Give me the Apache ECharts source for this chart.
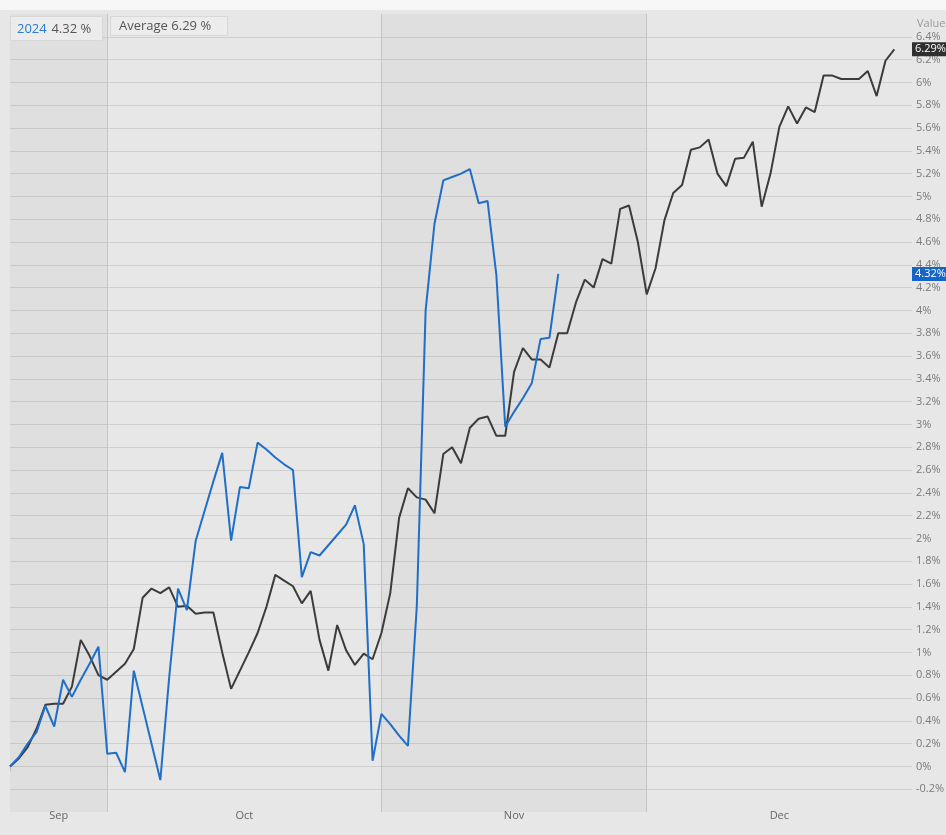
<!DOCTYPE html>
<html>
<head>
<meta charset="utf-8">
<script src="https://cdn.jsdelivr.net/npm/echarts@6/dist/echarts.min.js"></script>
<style>
  html, body { margin: 0; padding: 0; background: #e7e7e7; }
  #chart { width: 946px; height: 835px; }
</style>
</head>
<body>
<div id="chart"></div>
<script>
// daily points, Sep 20 -> Dec 31 2024
const startDay = Date.UTC(2024, 8, 20);
const dayCount = 103;
const days = [];
for (let i = 0; i < dayCount; i++) {
  days.push(new Date(startDay + i * 86400000).toISOString().slice(0, 10));
}

const monthNames = ["Sep", "Oct", "Nov", "Dec"];
const monthLabelIdx = [5, 26, 57, 87];
const monthEdgeIdx = [0, 11, 42, 72];

// 2024 return, %
const values2024 = [
  0.00, 0.08, 0.20, 0.30, 0.53, 0.35, 0.76, 0.61, 0.76, 0.90,
  1.05, 0.11, 0.12, -0.05, 0.84, 0.52, 0.20, -0.12, 0.78, 1.56,
  1.37, 1.98, 2.24, 2.50, 2.75, 1.98, 2.45, 2.44, 2.84, 2.78,
  2.71, 2.65, 2.60, 1.66, 1.88, 1.85, 1.94, 2.03, 2.12, 2.29,
  1.95, 0.05, 0.46, 0.37, 0.27, 0.18, 1.40, 4.00, 4.76, 5.14,
  5.17, 5.20, 5.24, 4.94, 4.96, 4.31, 2.98, 3.11, 3.23, 3.36,
  3.75, 3.76, 4.32
];

// seasonal average, %
const valuesAvg = [
  0.00, 0.07, 0.17, 0.33, 0.54, 0.55, 0.55, 0.70, 1.11, 0.97,
  0.80, 0.76, 0.83, 0.90, 1.03, 1.48, 1.56, 1.52, 1.57, 1.40,
  1.41, 1.34, 1.35, 1.35, 1.00, 0.68, 0.84, 1.00, 1.17, 1.40,
  1.68, 1.63, 1.58, 1.43, 1.54, 1.11, 0.84, 1.24, 1.02, 0.89,
  0.99, 0.94, 1.17, 1.52, 2.18, 2.44, 2.36, 2.34, 2.22, 2.74,
  2.80, 2.66, 2.97, 3.05, 3.07, 2.90, 2.90, 3.46, 3.67, 3.57,
  3.57, 3.50, 3.80, 3.80, 4.07, 4.27, 4.20, 4.45, 4.41, 4.89,
  4.92, 4.60, 4.14, 4.37, 4.79, 5.03, 5.10, 5.41, 5.43, 5.50,
  5.20, 5.09, 5.33, 5.34, 5.48, 4.91, 5.20, 5.61, 5.79, 5.64,
  5.78, 5.74, 6.06, 6.06, 6.03, 6.03, 6.03, 6.10, 5.88, 6.19,
  6.29
];

const last2024 = values2024[values2024.length - 1];
const lastAvg = valuesAvg[valuesAvg.length - 1];

const font = "'Open Sans', 'Noto Sans', sans-serif";
const chart = echarts.init(document.getElementById("chart"));

chart.setOption({
  backgroundColor: "#e7e7e7",
  animation: false,
  textStyle: { fontFamily: font },
  graphic: [
    { type: "rect", left: 0, top: 0, shape: { width: 946, height: 10 }, style: { fill: "#f7f7f7" }, z: -1 },
    { type: "text", left: 917, top: 18, style: { text: "Value", fill: "#999", fontSize: 11, fontFamily: font } }
  ],
  title: [
    {
      text: "{a|2024} {b|" + last2024.toFixed(2) + " %}",
      left: 10, top: 16,
      padding: [4, 12, 3, 7],
      backgroundColor: "#ececec", borderColor: "#d8d8d8", borderWidth: 1,
      textStyle: { fontWeight: "normal", rich: {
        a: { color: "#2b7bd0", fontSize: 13, fontWeight: "normal", fontFamily: font },
        b: { color: "#555", fontSize: 13, fontWeight: "normal", fontFamily: font }
      } }
    },
    {
      text: "{b|Average " + lastAvg.toFixed(2) + " %}",
      left: 110, top: 16,
      padding: [4, 17, 3, 9],
      backgroundColor: "#ececec", borderColor: "#d8d8d8", borderWidth: 1,
      textStyle: { fontWeight: "normal", rich: {
        b: { color: "#555", fontSize: 13, fontWeight: "normal", fontFamily: font }
      } }
    }
  ],
  grid: { left: 10, right: 34, top: 14, bottom: 23, containLabel: false, outerBoundsMode: "none" },
  xAxis: {
    type: "category",
    data: days,
    boundaryGap: false,
    axisLine: { show: false },
    axisTick: {
      show: true, length: 5,
      interval: (i) => monthEdgeIdx.includes(i),
      lineStyle: { color: "#c4c4c4" }
    },
    splitLine: {
      show: true,
      interval: (i) => monthEdgeIdx.includes(i) && i > 0,
      lineStyle: { color: "#c8c8c8", width: 1 }
    },
    axisLabel: {
      interval: (i) => monthLabelIdx.includes(i),
      margin: -2,
      formatter: (v, i) => {
        const k = monthLabelIdx.indexOf(i);
        return k < 2 ? "{h|" + monthNames[k] + "}" : "{n|" + monthNames[k] + "}";
      },
      rich: {
        h: { color: "#666", fontSize: 11, padding: [0, 0, 0, 9], fontFamily: "'Liberation Sans Narrow', " + font },
        n: { color: "#666", fontSize: 11, fontFamily: "'Liberation Sans Narrow', " + font }
      }
    }
  },
  yAxis: {
    type: "value",
    position: "right",
    min: -0.4, max: 6.6, interval: 0.2,
    axisLine: { show: false },
    axisTick: { show: false },
    splitLine: { show: true, showMinLine: false, showMaxLine: false, lineStyle: { color: "#cfcfcf", width: 1 } },
    axisLabel: {
      margin: 4, color: "#7a7a7a", fontSize: 11, fontFamily: font,
      showMinLabel: false, showMaxLabel: false,
      formatter: (v) => Math.round(v * 10) / 10 + "%"
    }
  },
  series: [
    {
      name: "Average",
      type: "line",
      data: valuesAvg,
      symbol: "none",
      lineStyle: { color: "#3b3b3b", width: 2 },
      z: 3,
      markArea: {
        silent: true,
        itemStyle: { color: "rgba(0,0,0,0.03)" },
        data: [
          [{ xAxis: days[0] }, { xAxis: days[11] }],
          [{ xAxis: days[42] }, { xAxis: days[72] }]
        ]
      },
      markLine: {
        silent: true, symbol: "none",
        lineStyle: { color: "rgba(0,0,0,0)", width: 0 },
        label: {
          position: "end", distance: 0, formatter: lastAvg.toFixed(2) + "%",
          color: "#fff", backgroundColor: "#2f2f2f", padding: [2, 2, 1, 3],
          fontSize: 11, fontFamily: font
        },
        data: [{ yAxis: lastAvg }]
      }
    },
    {
      name: "2024",
      type: "line",
      data: values2024,
      symbol: "none",
      lineStyle: { color: "#1f6fc8", width: 2 },
      z: 4,
      markLine: {
        silent: true, symbol: "none",
        lineStyle: { color: "rgba(0,0,0,0)", width: 0 },
        label: {
          position: "end", distance: 0, formatter: last2024.toFixed(2) + "%",
          color: "#fff", backgroundColor: "#1565c8", padding: [2, 2, 1, 3],
          fontSize: 11, fontFamily: font
        },
        data: [{ yAxis: last2024 }]
      }
    }
  ]
});
</script>
</body>
</html>
